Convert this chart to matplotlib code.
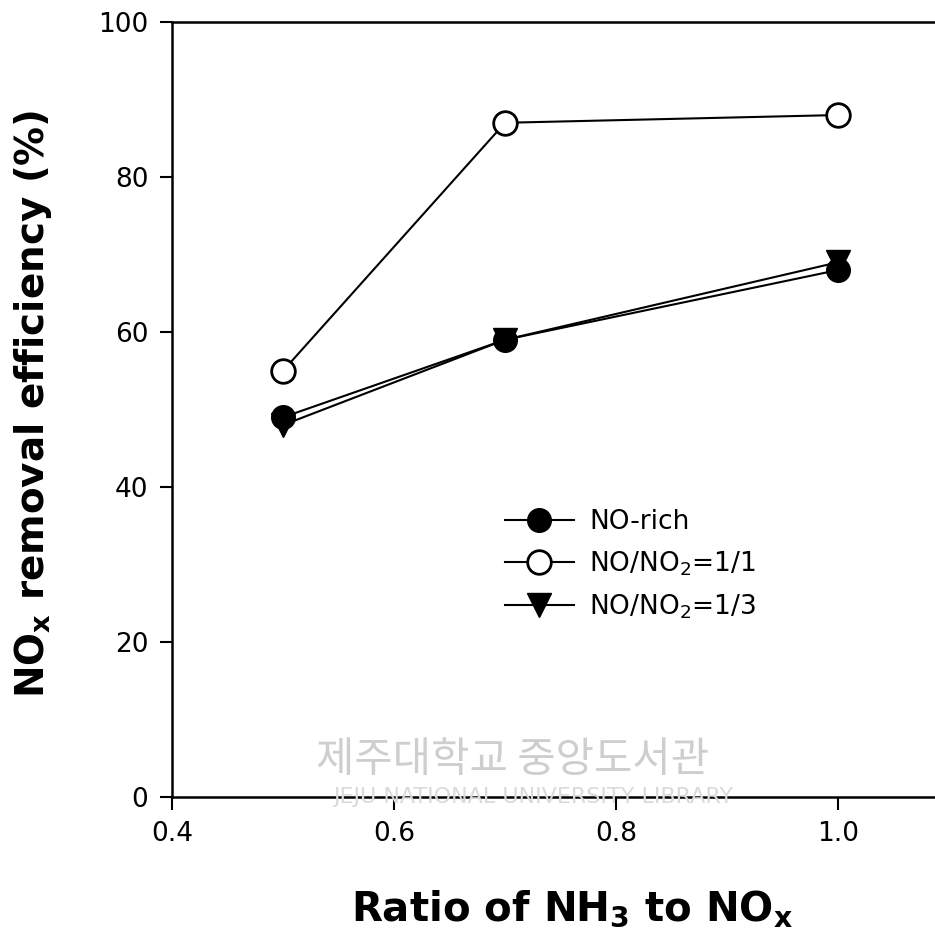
import matplotlib
matplotlib.use("Agg")
import matplotlib.pyplot as plt

# NH3/NOx ratio and NOx removal efficiency (%)
ratio = [0.5, 0.7, 1.0]
no_rich = [49, 59, 68]
no_no2_11 = [55, 87, 88]
no_no2_13 = [48, 59, 69]

x_ticks = [0.4, 0.6, 0.8, 1.0]
y_ticks = [0, 20, 40, 60, 80, 100]

plt.rcParams['font.family'] = ['DejaVu Sans']

fig = plt.figure(figsize=(9.35, 9.46), dpi=100)
ax = fig.add_axes([0.184, 0.1575, 0.831, 0.8192])

ax.plot(ratio, no_rich, '-o', color='black', mfc='black', ms=17, lw=1.5, label='NO-rich')
ax.plot(ratio, no_no2_11, '-o', color='black', mfc='white', mew=2.0, ms=17, lw=1.5,
        label='NO/NO$_2$=1/1')
ax.plot(ratio, no_no2_13, '-v', color='black', mfc='black', ms=17, lw=1.5,
        label='NO/NO$_2$=1/3')

ax.set_xlim(0.4, 1.1)
ax.set_ylim(0, 100)
ax.set_xticks(x_ticks)
ax.set_xticklabels(["%.1f" % v for v in x_ticks])
ax.set_yticks(y_ticks)
ax.tick_params(direction='out', length=9, width=1.5, labelsize=19, pad=8)
for s in ['left', 'bottom', 'top', 'right']:
    ax.spines[s].set_linewidth(1.8)

ax.set_xlabel('Ratio of NH$_\\mathbf{3}$ to NO$_\\mathbf{x}$', fontsize=29,
              fontweight='bold')
ax.xaxis.set_label_coords(0.515, -0.118)
ax.set_ylabel('NO$_\\mathbf{x}$ removal efficiency (%)', fontsize=28,
              fontweight='bold')
ax.yaxis.set_label_coords(-0.152, 0.507)

ax.legend(loc='upper left', bbox_to_anchor=(0.415, 0.385), frameon=False,
          fontsize=19, handlelength=2.6, handletextpad=0.6, labelspacing=0.55,
          borderaxespad=0)

# faint library watermark
fig.text(0.548, 0.196, '제주대학교 중앙도서관', fontsize=30, color='#c9c9c9',
         family=['Noto Sans CJK KR'], ha='center', va='center', alpha=0.9)
fig.text(0.57, 0.157, 'JEJU NATIONAL UNIVERSITY LIBRARY', fontsize=16, color='#dadada',
         ha='center', va='center')

fig.savefig('out.png', dpi=100)
